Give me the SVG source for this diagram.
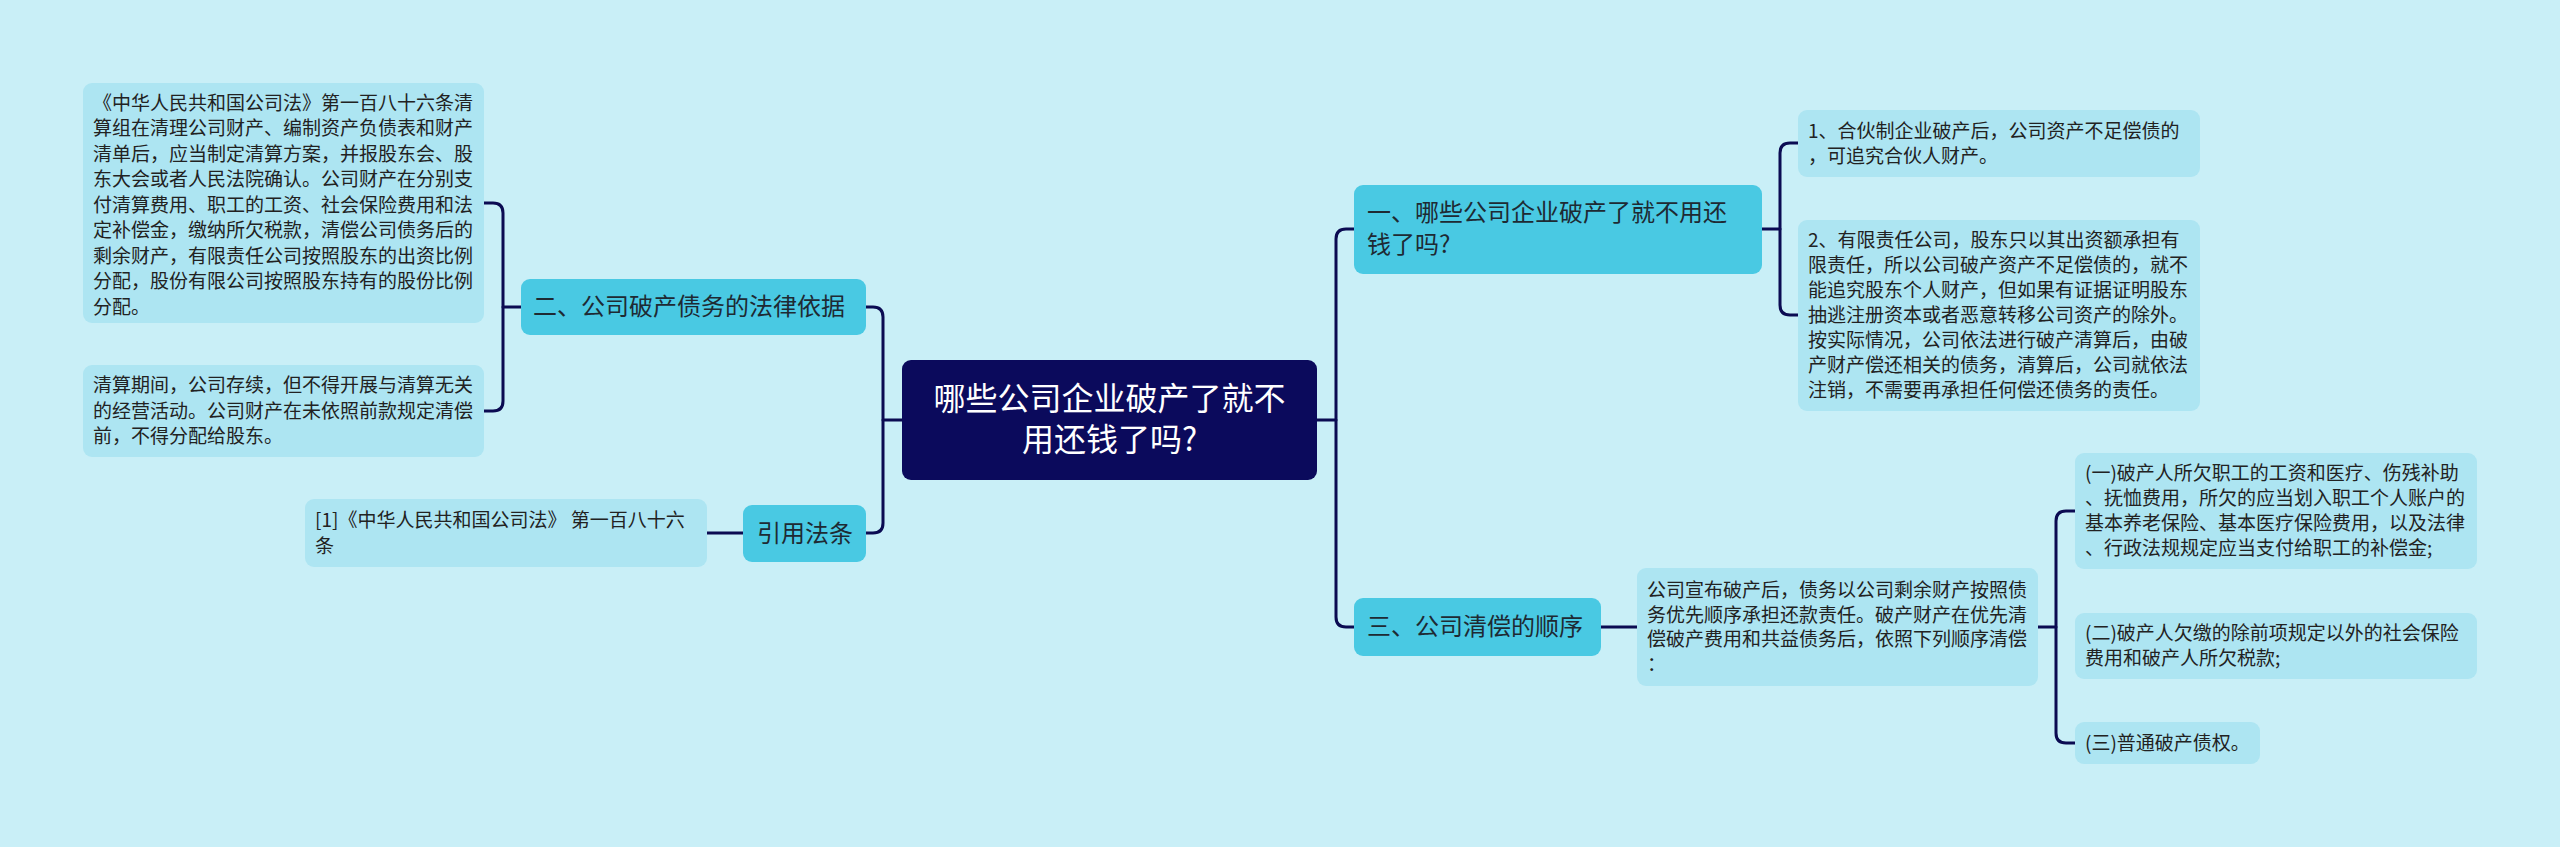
<svg xmlns="http://www.w3.org/2000/svg" width="2560" height="847" viewBox="0 0 2560 847">
<style>
.bg{fill:#c9eff7}
.root{fill:#0b0a5c}
.l1{fill:#49c9e3}
.leaf{fill:#ade5f2}
.conn{fill:none;stroke:#0b0b52;stroke-width:3;stroke-linecap:round;stroke-linejoin:round}
text{font-family:"Noto Sans CJK SC","Noto Sans",sans-serif}
.tr{font-size:32px;fill:#ffffff}
.t1{font-size:24px;fill:#1e2a33}
.t2{font-size:19px;fill:#222222}
</style>
<rect class="bg" x="0" y="0" width="2560" height="847"/>
<g id="connectors">
<path class="conn" d="M883,420 H902"/>
<path class="conn" d="M866,307 H873 Q883,307 883,317 V523 Q883,533 873,533 H866"/>
<path class="conn" d="M1317,420 H1336"/>
<path class="conn" d="M1354,229 H1346 Q1336,229 1336,239 V617 Q1336,627 1346,627 H1354"/>
<path class="conn" d="M503,307 H521"/>
<path class="conn" d="M484,203 H493 Q503,203 503,213 V401 Q503,411 493,411 H484"/>
<path class="conn" d="M707,533 H743"/>
<path class="conn" d="M1762,229 H1780"/>
<path class="conn" d="M1798,143 H1790 Q1780,143 1780,153 V305 Q1780,315 1790,315 H1798"/>
<path class="conn" d="M1601,627 H1637"/>
<path class="conn" d="M2038,627 H2056"/>
<path class="conn" d="M2075,511 H2066 Q2056,511 2056,521 V733 Q2056,743 2066,743 H2075"/>
</g>
<g id="root">
<rect class="root" x="902" y="360" width="415" height="120" rx="9"/>
<text class="tr" text-anchor="middle"><tspan x="1109.5" y="410">哪些公司企业破产了就不</tspan><tspan x="1109.5" y="451">用还钱了吗?</tspan></text>
</g>
<g id="node-yi">
<rect class="l1" x="1354" y="185" width="408" height="89" rx="9"/>
<text class="t1"><tspan x="1367" y="221.4">一、哪些公司企业破产了就不用还</tspan><tspan x="1367" y="253.4">钱了吗?</tspan></text>
</g>
<g id="node-er">
<rect class="l1" x="521" y="279" width="345" height="56" rx="9"/>
<text class="t1" x="533" y="315.4">二、公司破产债务的法律依据</text>
</g>
<g id="node-yinyong">
<rect class="l1" x="743" y="505" width="123" height="57" rx="9"/>
<text class="t1" x="757" y="541.9">引用法条</text>
</g>
<g id="node-san">
<rect class="l1" x="1354" y="598" width="247" height="58" rx="9"/>
<text class="t1" x="1367" y="635.4">三、公司清偿的顺序</text>
</g>
<g id="leaf-er-1">
<rect class="leaf" x="83" y="83" width="401" height="240" rx="9"/>
<text class="t2"><tspan x="93" y="109.7">《中华人民共和国公司法》第一百八十六条清</tspan><tspan x="93" y="135.2">算组在清理公司财产、编制资产负债表和财产</tspan><tspan x="93" y="160.7">清单后，应当制定清算方案，并报股东会、股</tspan><tspan x="93" y="186.2">东大会或者人民法院确认。公司财产在分别支</tspan><tspan x="93" y="211.7">付清算费用、职工的工资、社会保险费用和法</tspan><tspan x="93" y="237.2">定补偿金，缴纳所欠税款，清偿公司债务后的</tspan><tspan x="93" y="262.7">剩余财产，有限责任公司按照股东的出资比例</tspan><tspan x="93" y="288.2">分配，股份有限公司按照股东持有的股份比例</tspan><tspan x="93" y="313.7">分配。</tspan></text>
</g>
<g id="leaf-er-2">
<rect class="leaf" x="83" y="365" width="401" height="92" rx="9"/>
<text class="t2"><tspan x="93" y="392.2">清算期间，公司存续，但不得开展与清算无关</tspan><tspan x="93" y="417.7">的经营活动。公司财产在未依照前款规定清偿</tspan><tspan x="93" y="443.2">前，不得分配给股东。</tspan></text>
</g>
<g id="leaf-yinyong">
<rect class="leaf" x="305" y="499" width="402" height="68" rx="9"/>
<text class="t2"><tspan x="315" y="527">[1]《中华人民共和国公司法》 第一百八十六</tspan><tspan x="315" y="552.5">条</tspan></text>
</g>
<g id="leaf-yi-1">
<rect class="leaf" x="1798" y="110" width="402" height="67" rx="9"/>
<text class="t2"><tspan x="1808" y="137.5">1、合伙制企业破产后，公司资产不足偿债的</tspan><tspan x="1808" y="163">，可追究合伙人财产。</tspan></text>
</g>
<g id="leaf-yi-2">
<rect class="leaf" x="1798" y="220" width="402" height="191" rx="9"/>
<text class="t2"><tspan x="1808" y="247.2">2、有限责任公司，股东只以其出资额承担有</tspan><tspan x="1808" y="272.2">限责任，所以公司破产资产不足偿债的，就不</tspan><tspan x="1808" y="297.2">能追究股东个人财产，但如果有证据证明股东</tspan><tspan x="1808" y="322.2">抽逃注册资本或者恶意转移公司资产的除外。</tspan><tspan x="1808" y="347.2">按实际情况，公司依法进行破产清算后，由破</tspan><tspan x="1808" y="372.2">产财产偿还相关的债务，清算后，公司就依法</tspan><tspan x="1808" y="397.2">注销，不需要再承担任何偿还债务的责任。</tspan></text>
</g>
<g id="leaf-san-main">
<rect class="leaf" x="1637" y="568" width="401" height="118" rx="9"/>
<text class="t2"><tspan x="1647" y="597">公司宣布破产后，债务以公司剩余财产按照债</tspan><tspan x="1647" y="621.5">务优先顺序承担还款责任。破产财产在优先清</tspan><tspan x="1647" y="646">偿破产费用和共益债务后，依照下列顺序清偿</tspan><tspan x="1647" y="670.5">：</tspan></text>
</g>
<g id="leaf-san-1">
<rect class="leaf" x="2075" y="453" width="402" height="116" rx="9"/>
<text class="t2"><tspan x="2085" y="480.2">(一)破产人所欠职工的工资和医疗、伤残补助</tspan><tspan x="2085" y="505.2">、抚恤费用，所欠的应当划入职工个人账户的</tspan><tspan x="2085" y="530.2">基本养老保险、基本医疗保险费用，以及法律</tspan><tspan x="2085" y="555.2">、行政法规规定应当支付给职工的补偿金;</tspan></text>
</g>
<g id="leaf-san-2">
<rect class="leaf" x="2075" y="613" width="402" height="66" rx="9"/>
<text class="t2"><tspan x="2085" y="640.2">(二)破产人欠缴的除前项规定以外的社会保险</tspan><tspan x="2085" y="665.2">费用和破产人所欠税款;</tspan></text>
</g>
<g id="leaf-san-3">
<rect class="leaf" x="2075" y="722" width="185" height="42" rx="9"/>
<text class="t2" x="2085" y="749.7">(三)普通破产债权。</text>
</g>
</svg>
